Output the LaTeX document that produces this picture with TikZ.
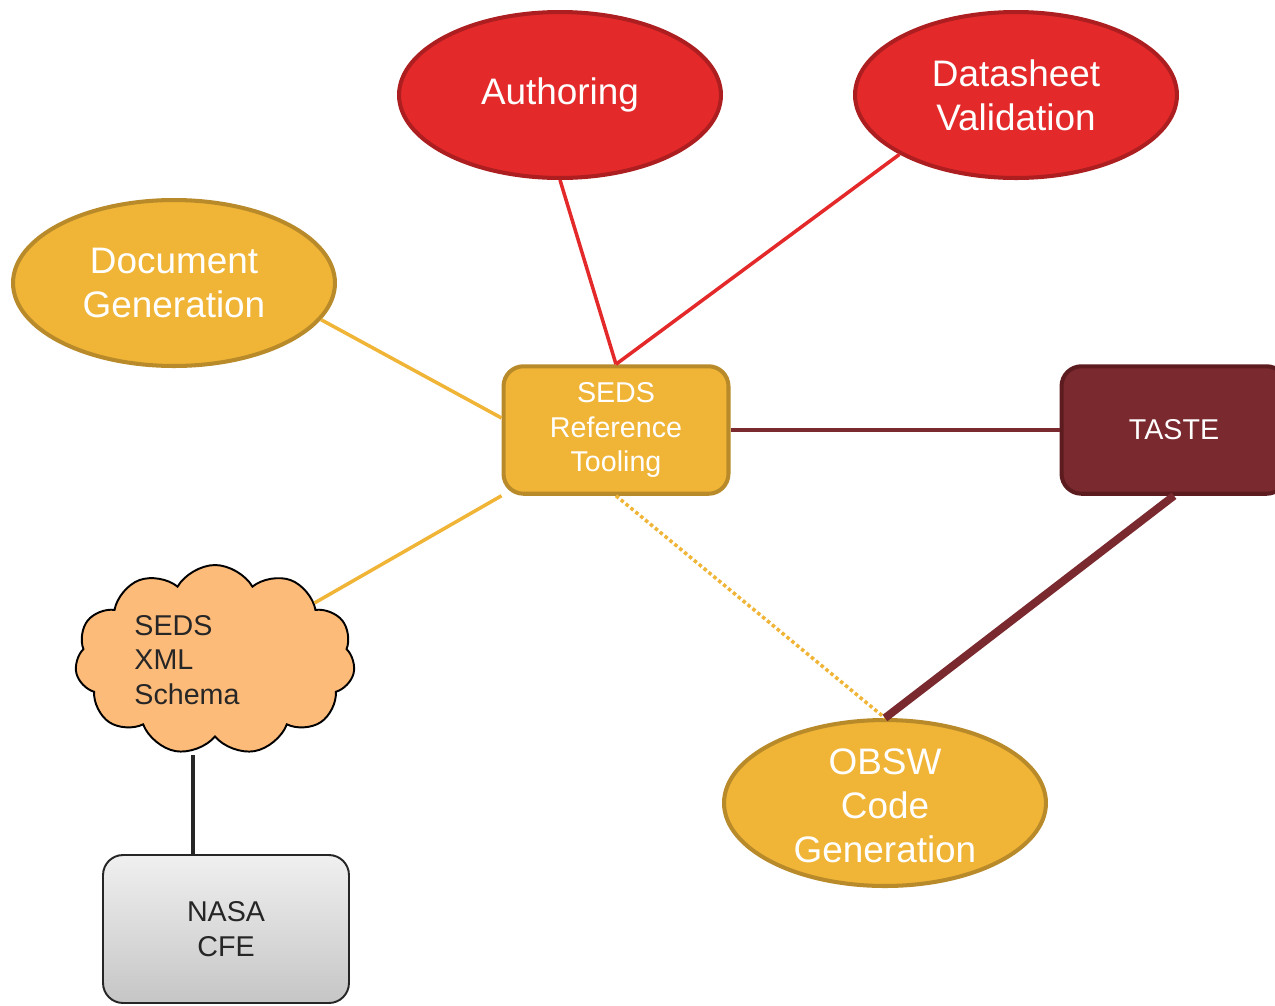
\documentclass[tikz,border=0pt]{standalone}
\usepackage{fontspec}
\setmainfont{Liberation Sans}
\usepackage{tikz}
\usetikzlibrary{shapes.geometric, shapes.symbols, positioning, calc}

\definecolor{toolred}{RGB}{228,41,42}
\definecolor{toolredline}{RGB}{172,30,32}
\definecolor{toolyellow}{RGB}{240,181,55}
\definecolor{toolyellowline}{RGB}{184,138,42}
\definecolor{tastered}{RGB}{122,41,46}
\definecolor{tasteredline}{RGB}{92,28,31}
\definecolor{cloudorange}{RGB}{253,187,122}

\begin{document}
\begin{tikzpicture}[ x=0.02cm, y=-0.02cm, redoval/.style={ellipse,
      draw=toolredline, fill=toolred, line width=2.3pt, minimum width=6.44cm,
      minimum height=3.32cm, text=white, align=center,
      font=\fontsize{21pt}{25pt}\selectfont}, yellowoval/.style={redoval,
      draw=toolyellowline, fill=toolyellow}, toolbox/.style={rectangle,
      rounded corners=0.4cm, draw=toolyellowline, fill=toolyellow, line
      width=2.3pt, minimum width=4.5cm, minimum height=2.55cm, text=white,
      align=center, font=\fontsize{16.3pt}{19.8pt}\selectfont},
      tastebox/.style={toolbox, draw=tasteredline, fill=tastered},
      cfebox/.style={toolbox, draw=black!85, line width=1.1pt, top
      color=gray!12, bottom color=gray!45, text=black!85, minimum
      width=4.92cm, minimum height=2.96cm}, redlink/.style={line width=2pt,
      toolred}, yellowlink/.style={line width=2pt, toolyellow},
      darklink/.style={line width=2pt, tastered} ]

    \useasboundingbox (0,0) rectangle (1275,1005);

    % Ovals
    \node[redoval] (auth) at (560,95) {Authoring}; \node[redoval] (datasheet)
    at (1016,95) {Datasheet\\Validation}; \node[yellowoval] (docgen) at
    (174,283) {Document\\Generation}; \node[yellowoval] (obsw) at (885,803)
    {}; \node[text=white, align=center,
    font=\fontsize{21pt}{25pt}\selectfont] (obswtxt) at (885,806)
    {OBSW\\Code\\Generation};

    % Boxes
    \node[toolbox] (seds) at (616,430) {SEDS\\Reference\\Tooling};
    \node[tastebox] (taste) at (1174,430) {TASTE}; \node[cfebox] (nasa) at
    (226,929) {NASA\\CFE};

    % Schema cloud
    \node[cloud, cloud puffs=11, cloud puff arc=120, aspect=1.48, draw=black,
    line width=1.1pt, fill=cloudorange, minimum width=5.6cm, minimum
    height=3.8cm] (cloud) at (215,660) {}; \node[align=left, text=black!85,
    font=\fontsize{16.3pt}{19.8pt}\selectfont] (cloudtxt) at (187,660)
    {SEDS\\XML\\Schema};

    % Links
    \draw[redlink] (auth.south) -- (seds.north); \draw[redlink]
    (datasheet.207) -- (seds.north); \draw[yellowlink] (docgen.-14) --
    (seds.174); \draw[yellowlink] (seds.south west) -- (cloud);
    \draw[yellowlink, dash pattern=on 2pt off 1.6pt] (seds.south) --
    (obsw.north); \draw[darklink] (seds.east) -- (taste.west);
    \draw[darklink, line width=4.5pt] (taste.south) -- (obsw.north);

    % Cloud to NASA CFE
    \coordinate (cloudfoot) at (193,755); \draw[line width=1.8pt, black!85]
    (cloudfoot) -- (cloudfoot |- nasa.north);

\end{tikzpicture}
\end{document}
